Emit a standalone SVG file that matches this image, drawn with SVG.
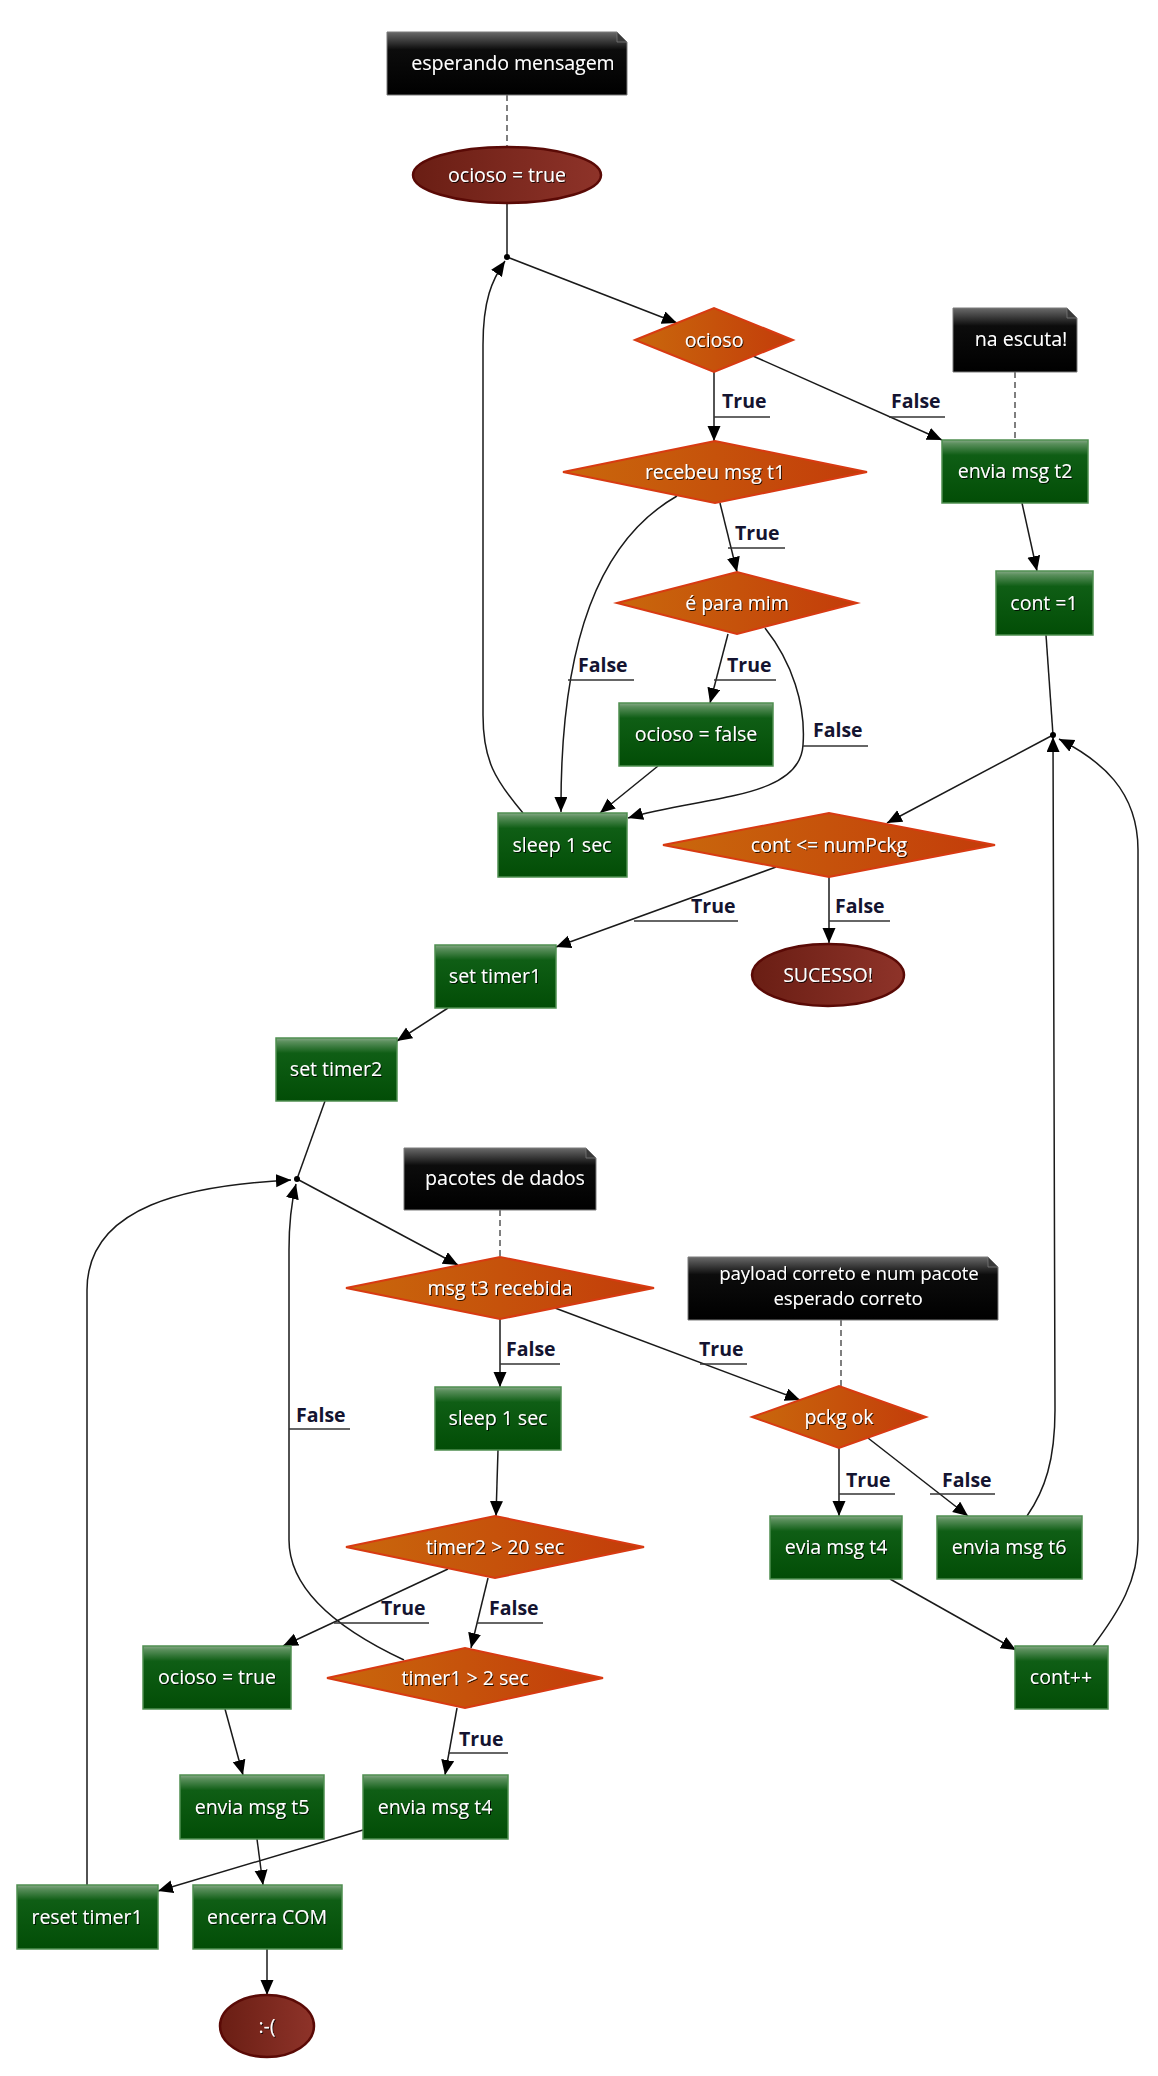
<svg xmlns="http://www.w3.org/2000/svg" width="1158" height="2076" viewBox="0 0 1158 2076">
  <defs>
    <linearGradient id="gBox" x1="0" y1="0" x2="0" y2="1">
      <stop offset="0" stop-color="#86a886"/>
      <stop offset="0.06" stop-color="#5a8f5c"/>
      <stop offset="0.24" stop-color="#0f5e15"/>
      <stop offset="1" stop-color="#024d06"/>
    </linearGradient>
    <linearGradient id="gDia" x1="0" y1="0" x2="1" y2="0">
      <stop offset="0" stop-color="#c9680c"/>
      <stop offset="1" stop-color="#c33c0a"/>
    </linearGradient>
    <linearGradient id="gEll" x1="0" y1="0" x2="1" y2="0">
      <stop offset="0" stop-color="#6a1e14"/>
      <stop offset="1" stop-color="#8e3329"/>
    </linearGradient>
    <linearGradient id="gNote" x1="0" y1="0" x2="0" y2="1">
      <stop offset="0" stop-color="#6a6a6a"/>
      <stop offset="0.28" stop-color="#0c0c0c"/>
      <stop offset="1" stop-color="#000"/>
    </linearGradient>
    <filter id="ts" x="-10%" y="-30%" width="120%" height="160%">
      <feDropShadow dx="1" dy="1" stdDeviation="0.4" flood-color="#000" flood-opacity="0.8"/>
    </filter>
    <marker id="arr" markerUnits="userSpaceOnUse" markerWidth="16" markerHeight="14" refX="15" refY="6.5" orient="auto">
      <path d="M0,0 L15,6.5 L0,13 Z" fill="#000"/>
    </marker>
  </defs>
  <style>
    .box { fill: url(#gBox); stroke: #4f8f50; stroke-width: 1.5; }
    .dia { fill: url(#gDia); stroke: #d83a12; stroke-width: 2; }
    .ell { fill: url(#gEll); stroke: #5a0a06; stroke-width: 2.5; }
    .note { fill: url(#gNote); stroke: #7a7a7a; stroke-width: 1; }
    .fold { fill: #3a3a3a; stroke: #7a7a7a; stroke-width: 0.8; }
    .t { font-family: "Open Sans", "DejaVu Sans", sans-serif; font-size: 19.5px; fill: #fff; text-anchor: middle; filter: url(#ts); }
    .t2 { font-size: 18.5px; }
    .edge { fill: none; stroke: #1a1a1a; stroke-width: 1.5; }
    .arrow { marker-end: url(#arr); }
    .dash { fill: none; stroke: #555; stroke-width: 1.5; stroke-dasharray: 6 4; }
    .lbl { font-family: "Open Sans", "DejaVu Sans", sans-serif; font-size: 19.5px; font-weight: bold; fill: #141430; }
    .ul { stroke: #333; stroke-width: 1.5; }
    .dot { fill: #000; }
  </style>

  <!-- connectors -->
  <g id="connectors">
    <!-- note links -->
    <path class="dash" d="M507,95 V147"/>
    <path class="dash" d="M1015,372 V440"/>
    <path class="dash" d="M500,1210 V1257"/>
    <path class="dash" d="M841,1320 V1386"/>

    <!-- idle loop -->
    <path class="edge" d="M507,203 V257"/>
    <path class="edge arrow" d="M507,257 L677,323"/>
    <path class="edge arrow" d="M714,372 V441"/>
    <path class="edge arrow" d="M753,356 L942,440"/>
    <path class="edge arrow" d="M720,503 L737,572"/>
    <path class="edge arrow" d="M677,496 C600,540 560,640 561,812"/>
    <path class="edge arrow" d="M728,634 L710,703"/>
    <path class="edge arrow" d="M765,628 C792,662 806,705 803,745 C800,800 700,796 628,818"/>
    <path class="edge arrow" d="M658,766 L600,813"/>
    <path class="edge arrow" d="M523,813 C495,780 483,760 483,715 L483,345 C483,300 492,280 505,261"/>

    <!-- sender start -->
    <path class="edge arrow" d="M1022,503 L1037,571"/>
    <path class="edge" d="M1046,635 L1053,735"/>
    <path class="edge arrow" d="M1053,735 L887,823"/>
    <path class="edge arrow" d="M776,867 L556,947"/>
    <path class="edge arrow" d="M829,877 V943"/>
    <path class="edge arrow" d="M448,1008 L397,1041"/>
    <path class="edge" d="M325,1101 L297,1179"/>
    <path class="edge arrow" d="M297,1179 L458,1265"/>

    <!-- packet handling -->
    <path class="edge arrow" d="M500,1319 V1387"/>
    <path class="edge arrow" d="M555,1308 L800,1400"/>
    <path class="edge arrow" d="M839,1448 V1516"/>
    <path class="edge arrow" d="M868,1438 L968,1516"/>
    <path class="edge arrow" d="M890,1579 L1016,1650"/>
    <path class="edge arrow" d="M1027,1516 C1045,1490 1055,1460 1055,1410 L1053,737"/>
    <path class="edge arrow" d="M1093,1646 C1120,1610 1138,1580 1138,1540 L1138,850 C1138,790 1100,760 1059,739"/>

    <!-- timeouts -->
    <path class="edge arrow" d="M498,1450 L496,1516"/>
    <path class="edge arrow" d="M448,1569 L283,1646"/>
    <path class="edge arrow" d="M488,1578 L471,1648"/>
    <path class="edge arrow" d="M404,1660 C340,1630 289,1590 289,1540 L289,1250 C289,1220 292,1200 296,1184"/>
    <path class="edge arrow" d="M225,1709 L243,1775"/>
    <path class="edge arrow" d="M457,1708 L445,1775"/>
    <path class="edge arrow" d="M257,1839 L263,1885"/>
    <path class="edge arrow" d="M363,1830 L158,1891"/>
    <path class="edge arrow" d="M87,1885 L87,1290 C87,1205 190,1185 291,1180"/>
    <path class="edge arrow" d="M267,1949 V1995"/>

    <!-- junction points -->
    <circle class="dot" cx="507" cy="257" r="3"/>
    <circle class="dot" cx="1053" cy="735" r="3"/>
    <circle class="dot" cx="297" cy="1179" r="3"/>

    <!-- edge labels -->
    <g id="labels">
      <text class="lbl" x="722" y="408">True</text><line class="ul" x1="714" y1="417" x2="770" y2="417"/>
      <text class="lbl" x="891" y="408">False</text><line class="ul" x1="889" y1="417" x2="945" y2="417"/>
      <text class="lbl" x="735" y="540">True</text><line class="ul" x1="728" y1="548" x2="785" y2="548"/>
      <text class="lbl" x="578" y="672">False</text><line class="ul" x1="568" y1="680" x2="634" y2="680"/>
      <text class="lbl" x="727" y="672">True</text><line class="ul" x1="714" y1="680" x2="776" y2="680"/>
      <text class="lbl" x="813" y="737">False</text><line class="ul" x1="803" y1="746" x2="868" y2="746"/>
      <text class="lbl" x="691" y="913">True</text><line class="ul" x1="634" y1="921" x2="738" y2="921"/>
      <text class="lbl" x="835" y="913">False</text><line class="ul" x1="829" y1="921" x2="890" y2="921"/>
      <text class="lbl" x="506" y="1356">False</text><line class="ul" x1="500" y1="1364" x2="560" y2="1364"/>
      <text class="lbl" x="699" y="1356">True</text><line class="ul" x1="700" y1="1364" x2="747" y2="1364"/>
      <text class="lbl" x="846" y="1487">True</text><line class="ul" x1="839" y1="1494" x2="895" y2="1494"/>
      <text class="lbl" x="942" y="1487">False</text><line class="ul" x1="930" y1="1494" x2="995" y2="1494"/>
      <text class="lbl" x="381" y="1615">True</text><line class="ul" x1="334" y1="1623" x2="429" y2="1623"/>
      <text class="lbl" x="489" y="1615">False</text><line class="ul" x1="477" y1="1623" x2="543" y2="1623"/>
      <text class="lbl" x="296" y="1422">False</text><line class="ul" x1="289" y1="1429" x2="350" y2="1429"/>
      <text class="lbl" x="459" y="1746">True</text><line class="ul" x1="448" y1="1753" x2="508" y2="1753"/>
    </g>
  </g>

  <!-- notes -->
  <g id="note-esperando">
    <path class="note" d="M387,32 H617 L627,42 V95 H387 Z"/>
    <path class="fold" d="M617,32 V42 H627 Z"/>
    <text class="t" x="513" y="70">esperando mensagem</text>
  </g>
  <g id="note-escuta">
    <path class="note" d="M953,308 H1067 L1077,318 V372 H953 Z"/>
    <path class="fold" d="M1067,308 V318 H1077 Z"/>
    <text class="t" x="1021" y="346">na escuta!</text>
  </g>
  <g id="note-pacotes">
    <path class="note" d="M404,1148 H586 L596,1158 V1210 H404 Z"/>
    <path class="fold" d="M586,1148 V1158 H596 Z"/>
    <text class="t" x="505" y="1185">pacotes de dados</text>
  </g>
  <g id="note-payload">
    <path class="note" d="M688,1257 H988 L998,1267 V1320 H688 Z"/>
    <path class="fold" d="M988,1257 V1267 H998 Z"/>
    <text class="t t2" x="849" y="1280">payload correto e num pacote</text>
    <text class="t t2" x="848" y="1305">esperado correto</text>
  </g>

  <!-- terminal ellipses -->
  <g id="start-ocioso">
    <ellipse class="ell" cx="507" cy="175" rx="94" ry="28"/>
    <text class="t" x="507" y="182">ocioso = true</text>
  </g>
  <g id="end-sucesso">
    <ellipse class="ell" cx="828" cy="975" rx="76" ry="31"/>
    <text class="t" x="828" y="982">SUCESSO!</text>
  </g>
  <g id="end-falha">
    <ellipse class="ell" cx="267" cy="2026" rx="47" ry="31"/>
    <text class="t" x="267" y="2033">:-(</text>
  </g>

  <!-- decisions -->
  <g id="dec-ocioso">
    <path class="dia" d="M635,340 L714,308 L793,340 L714,372 Z"/>
    <text class="t" x="714" y="347">ocioso</text>
  </g>
  <g id="dec-recebeu">
    <path class="dia" d="M563,472 L715,441 L867,472 L715,503 Z"/>
    <text class="t" x="715" y="479">recebeu msg t1</text>
  </g>
  <g id="dec-paramim">
    <path class="dia" d="M617,603 L737,572 L857,603 L737,634 Z"/>
    <text class="t" x="737" y="610">é para mim</text>
  </g>
  <g id="dec-cont">
    <path class="dia" d="M663,845 L829,813 L995,845 L829,877 Z"/>
    <text class="t" x="829" y="852">cont &lt;= numPckg</text>
  </g>
  <g id="dec-msgt3">
    <path class="dia" d="M346,1288 L500,1257 L654,1288 L500,1319 Z"/>
    <text class="t" x="500" y="1295">msg t3 recebida</text>
  </g>
  <g id="dec-pckg">
    <path class="dia" d="M752,1417 L839,1386 L926,1417 L839,1448 Z"/>
    <text class="t" x="839" y="1424">pckg ok</text>
  </g>
  <g id="dec-timer2">
    <path class="dia" d="M346,1547 L495,1516 L644,1547 L495,1578 Z"/>
    <text class="t" x="495" y="1554">timer2 &gt; 20 sec</text>
  </g>
  <g id="dec-timer1">
    <path class="dia" d="M327,1678 L465,1648 L603,1678 L465,1708 Z"/>
    <text class="t" x="465" y="1685">timer1 &gt; 2 sec</text>
  </g>

  <!-- actions -->
  <g id="act-envia-t2">
    <rect class="box" x="942" y="440" width="146" height="63"/>
    <text class="t" x="1015" y="478">envia msg t2</text>
  </g>
  <g id="act-cont1">
    <rect class="box" x="996" y="571" width="97" height="64"/>
    <text class="t" x="1044" y="610">cont =1</text>
  </g>
  <g id="act-ocioso-false">
    <rect class="box" x="619" y="703" width="154" height="63"/>
    <text class="t" x="696" y="741">ocioso = false</text>
  </g>
  <g id="act-sleep-a">
    <rect class="box" x="498" y="813" width="129" height="64"/>
    <text class="t" x="562" y="852">sleep 1 sec</text>
  </g>
  <g id="act-set-timer1">
    <rect class="box" x="435" y="945" width="121" height="63"/>
    <text class="t" x="495" y="983">set timer1</text>
  </g>
  <g id="act-set-timer2">
    <rect class="box" x="276" y="1038" width="121" height="63"/>
    <text class="t" x="336" y="1076">set timer2</text>
  </g>
  <g id="act-sleep-b">
    <rect class="box" x="435" y="1387" width="126" height="63"/>
    <text class="t" x="498" y="1425">sleep 1 sec</text>
  </g>
  <g id="act-evia-t4">
    <rect class="box" x="770" y="1516" width="132" height="63"/>
    <text class="t" x="836" y="1554">evia msg t4</text>
  </g>
  <g id="act-envia-t6">
    <rect class="box" x="937" y="1516" width="145" height="63"/>
    <text class="t" x="1009" y="1554">envia msg t6</text>
  </g>
  <g id="act-cont-inc">
    <rect class="box" x="1015" y="1646" width="93" height="63"/>
    <text class="t" x="1061" y="1684">cont++</text>
  </g>
  <g id="act-ocioso-true">
    <rect class="box" x="143" y="1646" width="148" height="63"/>
    <text class="t" x="217" y="1684">ocioso = true</text>
  </g>
  <g id="act-envia-t5">
    <rect class="box" x="180" y="1775" width="144" height="64"/>
    <text class="t" x="252" y="1814">envia msg t5</text>
  </g>
  <g id="act-envia-t4">
    <rect class="box" x="363" y="1775" width="145" height="64"/>
    <text class="t" x="435" y="1814">envia msg t4</text>
  </g>
  <g id="act-reset-timer1">
    <rect class="box" x="17" y="1885" width="141" height="64"/>
    <text class="t" x="87" y="1924">reset timer1</text>
  </g>
  <g id="act-encerra">
    <rect class="box" x="193" y="1885" width="149" height="64"/>
    <text class="t" x="267" y="1924">encerra COM</text>
  </g>
</svg>
